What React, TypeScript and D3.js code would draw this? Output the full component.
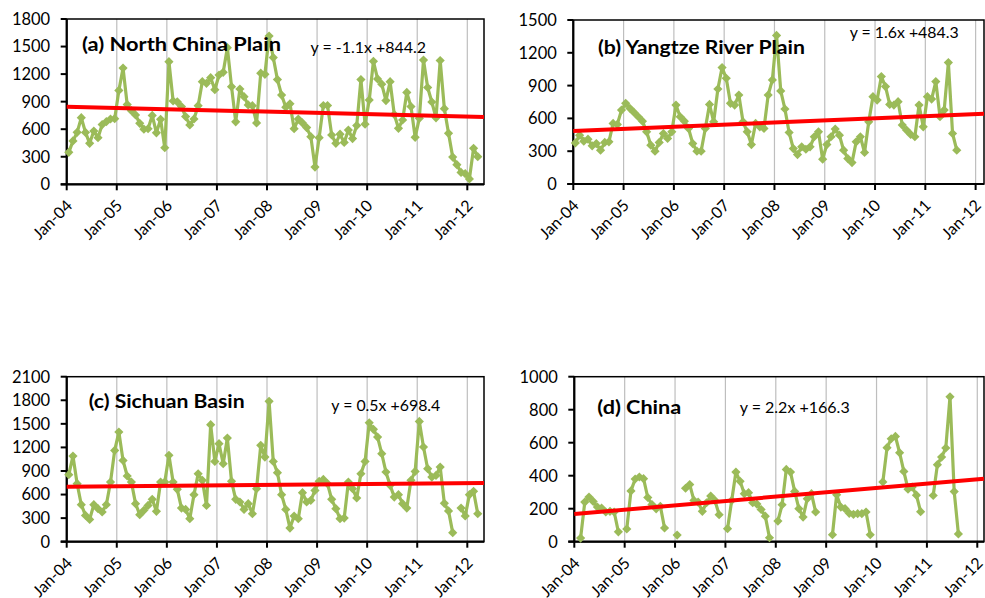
import React from 'react';
import * as d3 from 'd3';

const xTickLabels = ['Jan-04', 'Jan-05', 'Jan-06', 'Jan-07', 'Jan-08', 'Jan-09', 'Jan-10', 'Jan-11', 'Jan-12'];

// Monthly values, starting Jan-2004 (null = missing month)
const northChinaPlain: (number | null)[] = [
  348, 472, 566, 725, 565, 446, 580, 508, 650, 682, 711, 715,
  1022, 1266, 868, 802, 755, 664, 600, 605, 750, 560, 708, 398,
  1335, 907, 898, 846, 737, 646, 711, 856, 1118, 1100, 1161, 1030,
  1190, 1219, 1488, 1063, 680, 1038, 954, 864, 856, 668, 1210, 1198,
  1615, 1380, 1140, 972, 840, 876, 606, 710, 668, 618, 519, 188,
  508, 858, 858, 537, 446, 546, 456, 591, 498, 640, 1140, 655,
  918, 1339, 1148, 1090, 912, 1118, 760, 610, 700, 1000, 846, 512,
  718, 1353, 1054, 896, 724, 1348, 824, 555, 296, 214, 129, 116,
  58, 392, 301,
];

const yangtzeRiverPlain: (number | null)[] = [
  376, 447, 392, 410, 349, 370, 309, 380, 386, 554, 545, 676,
  738, 692, 655, 615, 575, 477, 355, 300, 380, 462, 416, 477,
  722, 615, 575, 508, 370, 300, 300, 508, 728, 569, 869, 1065,
  967, 738, 722, 814, 569, 477, 361, 554, 523, 508, 814, 952,
  1359, 851, 686, 471, 324, 269, 340, 318, 340, 432, 477, 227,
  361, 432, 502, 447, 309, 233, 196, 386, 432, 288, 569, 799,
  768, 983, 891, 728, 722, 753, 539, 493, 453, 432, 722, 523,
  799, 777, 937, 615, 676, 1111, 462, 309,
];

const sichuanBasin: (number | null)[] = [
  853, 1090, 738, 471, 335, 284, 471, 420, 378, 471, 759, 1162,
  1396, 1035, 836, 759, 484, 344, 399, 462, 539, 386, 759, 759,
  1099, 759, 666, 428, 411, 293, 598, 865, 781, 462, 1489, 1022,
  1247, 993, 1319, 768, 539, 505, 411, 484, 356, 674, 1226, 1077,
  1786, 1022, 878, 598, 411, 174, 327, 293, 624, 505, 526, 653,
  768, 793, 738, 539, 420, 293, 301, 759, 674, 556, 865, 1022,
  1514, 1430, 1332, 1120, 887, 717, 568, 598, 484, 428, 781, 895,
  1531, 1205, 929, 823, 844, 950, 488, 392, 115, null, 428, 327,
  598, 641, 356,
];

const china: (number | null)[] = [
  null, 22, 240, 271, 244, 210, 204, 180, 184, 180, 60, null,
  77, 308, 380, 392, 382, 268, 225, 199, 215, 83, null, null,
  40, null, 324, 346, 250, 240, 184, 236, 277, 250, 164, null,
  79, 250, 422, 366, 291, 297, 236, 228, 195, 155, 24, null,
  125, 224, 438, 422, 305, 200, 149, 261, 291, 180, null, null,
  null, 42, 285, 210, 200, 172, 166, 170, 170, 180, 42, null,
  null, 362, 570, 624, 638, 539, 426, 318, 331, 282, 182, null,
  null, 280, 467, 513, 568, 878, 304, 47,
];

const seriesList = [northChinaPlain, yangtzeRiverPlain, sichuanBasin, china];
const panelTitles = ['(a) North China Plain', '(b) Yangtze River Plain', '(c) Sichuan Basin', '(d) China'];
const trendSlopes = [-1.1, 1.6, 0.5, 2.2];
const trendIntercepts = [844.2, 484.3, 698.4, 166.3];
const trendLabels = ['y = -1.1x +844.2', 'y = 1.6x +484.3', 'y = 0.5x +698.4', 'y = 2.2x +166.3'];
const yMaxes = [1800, 1500, 2100, 1000];
const ySteps = [300, 300, 300, 200];

// Layout (positions in px)
const layouts = [
  { x0: 66.7, x1: 484, y0: 19, y1: 184.3, months: 100, title: { x: 82, y: 51, w: 199 }, eq: { x: 310.5, y: 52.5, w: 115.5 } },
  { x0: 573.3, x1: 984, y0: 20, y1: 184, months: 98, title: { x: 598, y: 54, w: 207 }, eq: { x: 849.7, y: 37.5, w: 109 } },
  { x0: 66.7, x1: 484, y0: 376.7, y1: 541.7, months: 100, title: { x: 88.7, y: 408, w: 156 }, eq: { x: 331.3, y: 411.3, w: 109 } },
  { x0: 574.3, x1: 984, y0: 376.7, y1: 541.7, months: 97.6, title: { x: 597.3, y: 413.5, w: 84 }, eq: { x: 739.7, y: 412.5, w: 110 } },
];

const GREEN = '#9BBB59';
const RED = '#FF0000';
const GRID = '#BEBEBE';
const FONT = "Lato, 'Liberation Sans', Arial, sans-serif";

function diamond(r: number) {
  return `M0,${-r}L${r},0L0,${r}L${-r},0Z`;
}

function Panel({ idx }: { idx: number }) {
  const L = layouts[idx];
  const values = seriesList[idx];
  const x = d3.scaleLinear().domain([0, L.months]).range([L.x0, L.x1]);
  const y = d3.scaleLinear().domain([0, yMaxes[idx]]).range([L.y1, L.y0]);
  const yTicks = d3.range(0, yMaxes[idx] + 1, ySteps[idx]);
  const xTicks = xTickLabels.map((lab, j) => ({ lab, m: 12 * j })).filter(t => t.m <= L.months);

  const line = d3
    .line<number | null>()
    .defined(v => v != null)
    .x((_, i) => x(i + 0.5))
    .y(v => y(v as number));

  const trendFn = (m: number) => trendSlopes[idx] * (m + 0.5) + trendIntercepts[idx];
  const trendPath = d3.line<number>().x(m => x(m)).y(m => y(trendFn(m)))([0, L.months]);

  return (
    <g>
      {xTicks.filter(t => t.m > 0).map(t => (
        <line key={'g' + t.m} x1={x(t.m)} x2={x(t.m)} y1={L.y0} y2={L.y1} stroke={GRID} strokeWidth={1.2} />
      ))}
      <rect x={L.x0} y={L.y0} width={L.x1 - L.x0} height={L.y1 - L.y0} fill="none" stroke="#000" strokeWidth={1.5} />
      <line x1={L.x0} x2={L.x0} y1={L.y0} y2={L.y1 + 0.5} stroke="#000" strokeWidth={2.2} />
      <line x1={L.x0 - 6} x2={L.x1} y1={L.y1} y2={L.y1} stroke="#000" strokeWidth={2.2} />
      {yTicks.map(t => (
        <g key={'y' + t}>
          <line x1={L.x0 - 6} x2={L.x0} y1={y(t)} y2={y(t)} stroke="#000" strokeWidth={2} />
          <text x={L.x0 - 16.5} y={y(t)} dy="0.36em" textAnchor="end" fontSize={16.5} fill="#000">{t}</text>
        </g>
      ))}
      {xTicks.map(t => (
        <g key={'x' + t.m}>
          <line x1={x(t.m)} x2={x(t.m)} y1={L.y1} y2={L.y1 + 6} stroke="#000" strokeWidth={2} />
          <text transform={`translate(${x(t.m) + 6.5},${L.y1 + 22.5}) rotate(-45)`} textAnchor="end" fontSize={16} fill="#000">{t.lab}</text>
        </g>
      ))}
      <path d={line(values) || ''} fill="none" stroke={GREEN} strokeWidth={3.2} strokeLinejoin="round" />
      {values.map((v, i) => v == null ? null : (
        <path key={'m' + i} d={diamond(4.6)} transform={`translate(${x(i + 0.5)},${y(v)})`} fill={GREEN} />
      ))}
      <path d={trendPath || ''} fill="none" stroke={RED} strokeWidth={4} />
      <text x={L.title.x} y={L.title.y} fontSize={19.5} fontWeight="bold" fill="#000" textLength={L.title.w} lengthAdjust="spacingAndGlyphs">{panelTitles[idx]}</text>
      <text x={L.eq.x} y={L.eq.y} fontSize={15} fill="#000" textLength={L.eq.w} lengthAdjust="spacingAndGlyphs">{trendLabels[idx]}</text>
    </g>
  );
}

export default function App() {
  return (
    <svg width={985} height={598} style={{ position: 'absolute', left: 0, top: 0, background: '#fff' }} fontFamily={FONT}>
      <rect x={0} y={0} width={985} height={598} fill="#fff" />
      {[0, 1, 2, 3].map(i => <Panel key={i} idx={i} />)}
    </svg>
  );
}
